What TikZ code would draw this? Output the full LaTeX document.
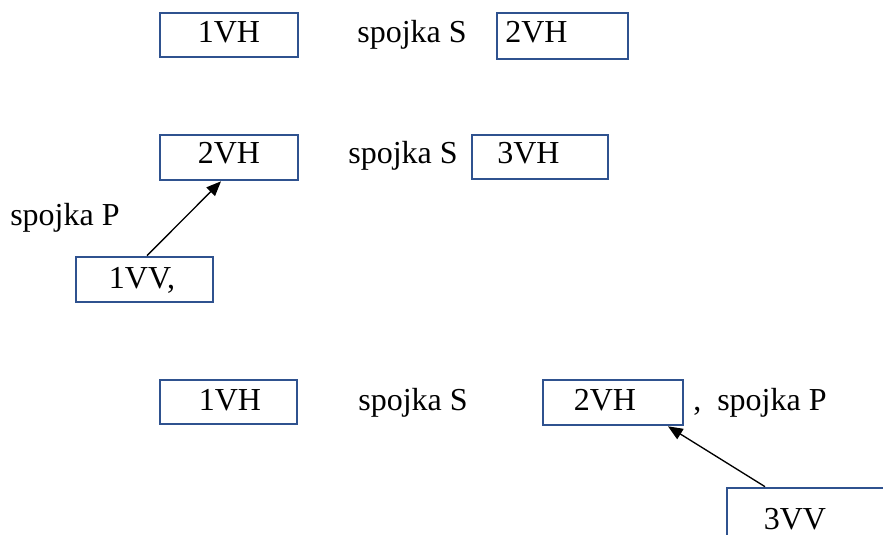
\documentclass[tikz,border=0pt]{standalone}
\usepackage{fontspec}
\setmainfont{Liberation Serif}
\usetikzlibrary{arrows.meta}
\definecolor{boxblue}{RGB}{47,82,143}
\def\px{0.75pt}
\begin{document}
\begin{tikzpicture}[x=0.75pt,y=-0.75pt,
  box/.style={draw=boxblue,line width=2pt,rectangle,inner sep=0pt},
  txt/.style={inner sep=0pt,font=\fontsize{24}{28}\selectfont},
  arr/.style={line width=1pt,-{Triangle[length=11pt,width=9pt]}}]
\useasboundingbox (0,0) rectangle (883,535);
\clip (0,0) rectangle (883,535);
\fill[white] (0,0) rectangle (883,535);
% row 1
\node[box,minimum width={138*\px},minimum height={44*\px}] (ra1) at (229,35) {};
\node[txt,anchor=base] (ta1) at (229,43) {1VH};
\node[txt,anchor=base] (sa) at (412,43) {spojka S};
\node[box,minimum width={131*\px},minimum height={46*\px}] (ra2) at (562.5,36) {};
\node[txt,anchor=base west] (ta2) at (505,43) {2VH};
% row 2
\node[box,minimum width={138*\px},minimum height={45*\px}] (rb1) at (229,157.5) {};
\node[txt,anchor=base] (tb1) at (229,164) {2VH};
\node[txt,anchor=base] (sb) at (403,164) {spojka S};
\node[box,minimum width={136*\px},minimum height={44*\px}] (rb2) at (540,157) {};
\node[txt,anchor=base] (tb2) at (528.5,164) {3VH};
\node[txt,anchor=base west] (pb) at (10,225) {spojka P};
\node[box,minimum width={137*\px},minimum height={45*\px}] (rv1) at (144.5,279.5) {};
\node[txt,anchor=base] (tv1) at (142,288) {1VV,};
\draw[arr] ([xshift={2.5*\px}]rv1.north) -- ([xshift={-8*\px}]rb1.south);
% row 3
\node[box,minimum width={137*\px},minimum height={44*\px}] (rc1) at (228.5,402) {};
\node[txt,anchor=base] (tc1) at (230,410) {1VH};
\node[txt,anchor=base] (sc) at (413,410) {spojka S};
\node[box,minimum width={140*\px},minimum height={45*\px}] (rc2) at (613,402.5) {};
\node[txt,anchor=base] (tc2) at (605,410) {2VH};
\node[txt,anchor=base west] (pc) at (693,410) {,\ \ spojka P};
\node[box,minimum width={240*\px},minimum height={150*\px}] (rv3) at (847,563) {};
\node[txt,anchor=base] (tv3) at (795,529) {3VV};
\draw[arr] ([xshift={-82*\px}]rv3.north) -- ([xshift={55*\px}]rc2.south);
\end{tikzpicture}
\end{document}
